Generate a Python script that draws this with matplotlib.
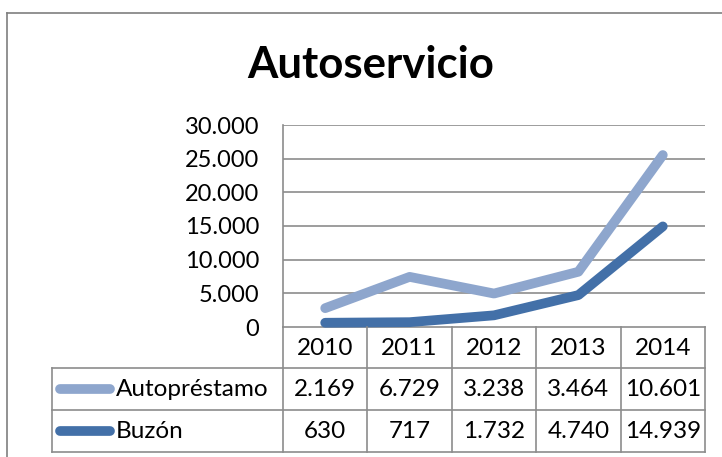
import matplotlib
matplotlib.use("Agg")
from matplotlib import pyplot as plt
from matplotlib.transforms import blended_transform_factory

years = ["2010", "2011", "2012", "2013", "2014"]
autoprestamo = [2169, 6729, 3238, 3464, 10601]
buzon = [630, 717, 1732, 4740, 14939]
yticks = [0, 5000, 10000, 15000, 20000, 25000, 30000]

c_light = "#8EA6CD"
c_dark = "#4370A8"
c_grid = "#8C8C8C"

def fmt(v):
	return "{:,}".format(v).replace(",", ".")

plt.rcParams['font.family'] = ['Lato', 'DejaVu Sans']

W, H = 722, 457
fig = plt.figure(figsize=(W/100, H/100), dpi=100)

# overlay axes in pixel coordinates (for borders / table)
ov = fig.add_axes([0, 0, 1, 1])
ov.set_xlim(0, W)
ov.set_ylim(H, 0)
ov.axis('off')

# chart frame (left + top visible)
ov.plot([7, 7], [457, 13], color="#7F7F7F", lw=1.2)
ov.plot([7, 722], [13, 13], color="#7F7F7F", lw=1.2)

# plot area
x0, x1, ytop, ybot = 283, 705, 125, 327
ax = fig.add_axes([x0/W, 1-ybot/H, (x1-x0)/W, (ybot-ytop)/H])
ax.set_xlim(-0.5, len(years)-0.5)
ax.set_ylim(0, 30000)
ax.set_yticks(yticks)
ax.set_yticklabels([fmt(v) for v in yticks], fontsize=17)
ax.set_xticks([])
ax.tick_params(axis='y', length=0, pad=17)
for s in ['top', 'right', 'bottom']:
	ax.spines[s].set_visible(False)
ax.spines['left'].set_color(c_grid)
ax.spines['left'].set_linewidth(1.2)
ax.grid(axis='y', color=c_grid, lw=1.2)
ax.set_axisbelow(True)

# stacked line chart
x = list(range(len(years)))
stacked = [a+b for a, b in zip(autoprestamo, buzon)]
ax.plot(x, stacked, color=c_light, lw=7, solid_capstyle='round', solid_joinstyle='round', clip_on=False)
ax.plot(x, buzon, color=c_dark, lw=7, solid_capstyle='round', solid_joinstyle='round', clip_on=False)

# title
ov.text(371, 65, "Autoservicio", ha='center', va='center', fontsize=31.5, fontweight='bold')

# data table: x in data coords of ax, y in pixels
tr = blended_transform_factory(ax.transData, ov.transData)
rows_y = [327, 368, 410, 452]
left = 52
kw = dict(color=c_grid, lw=1.2, clip_on=False)
# horizontal lines
ov.plot([x0, x1], [rows_y[0], rows_y[0]], **kw)
for yy in rows_y[1:]:
	ov.plot([left, x1], [yy, yy], **kw)
# vertical lines
ov.plot([left, left], [rows_y[1], rows_y[3]], **kw)
for i in range(len(years)+1):
	ax.plot([i-0.5, i-0.5], [rows_y[0], rows_y[3]], transform=tr, **kw)

ts = 17.5
for i, yr in enumerate(years):
	ax.text(i, (rows_y[0]+rows_y[1])/2+1, yr, transform=tr, ha='center', va='center', fontsize=ts)
	ax.text(i, (rows_y[1]+rows_y[2])/2, fmt(autoprestamo[i]), transform=tr, ha='center', va='center', fontsize=ts)
	ax.text(i, (rows_y[2]+rows_y[3])/2, fmt(buzon[i]), transform=tr, ha='center', va='center', fontsize=ts)

# legend keys in table
for name, col, (ya, yb) in [("Autopréstamo", c_light, rows_y[1:3]), ("Buzón", c_dark, rows_y[2:4])]:
	ym = (ya+yb)/2
	ov.plot([60, 110], [ym, ym], color=col, lw=7, solid_capstyle='round')
	ov.text(116, ym, name, ha='left', va='center', fontsize=ts)

fig.savefig("out.png", dpi=100)
